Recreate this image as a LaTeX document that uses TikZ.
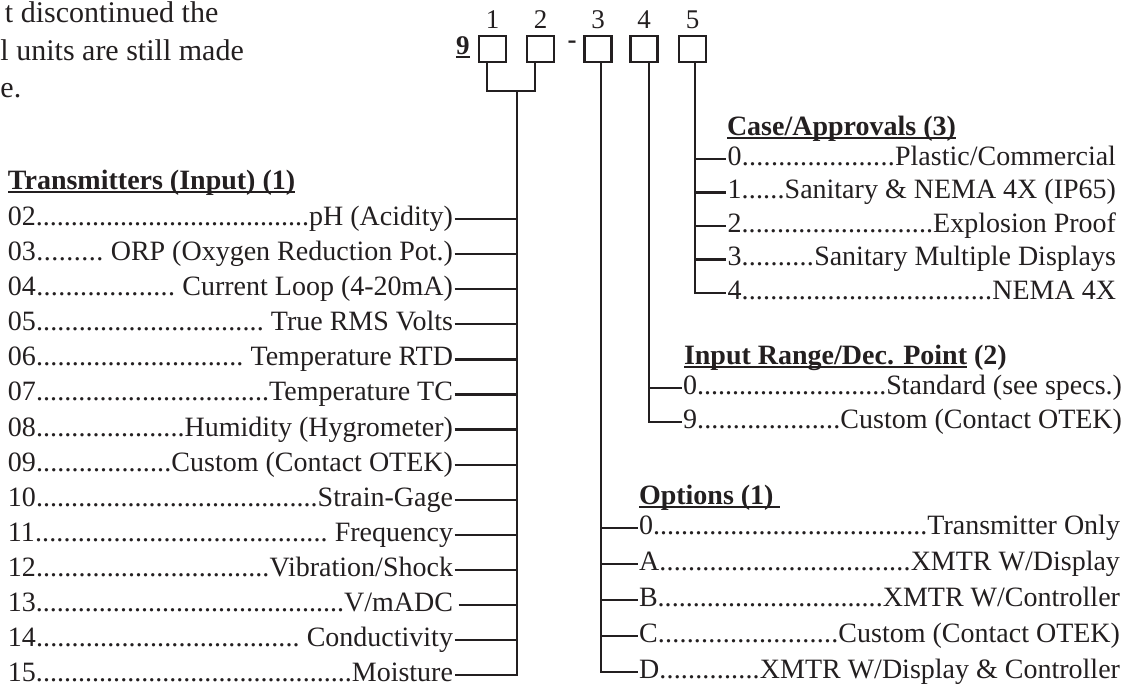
\documentclass[tikz,border=0pt]{standalone}
\usepackage{fontspec}
\setmainfont{Liberation Serif}
\definecolor{ink}{HTML}{231F20}
\newcommand\fs{\fontsize{28}{33}\selectfont}
\newcommand\fstop{\fontsize{27}{32}\selectfont}
\newcommand\fsbig{\fontsize{30}{40}\selectfont}
\newcommand\dotrow[3]{\hbox to #1{#2\xleaders\hbox{.}\hfill#3}}
\tikzset{
  conn/.style={draw=ink, line width=2.3pt, line join=miter},
  codebox/.style={draw=ink, line width=2.2pt, minimum width=27pt, minimum height=26pt},
  ulline/.style={draw=ink, line width=1.8pt},
  lrow/.style={anchor=mid west, inner xsep=1.5pt},
  rrow/.style={anchor=mid west, inner xsep=1.5pt},
  head/.style={anchor=base west, font=\fs\bfseries},
}
\begin{document}
\fs
\begin{tikzpicture}[x=1pt,y=-1pt, every node/.style={inner sep=0pt, outer sep=0pt, text=ink, font=\fs}]
\useasboundingbox (0,0) rectangle (1136,686);

% clipped paragraph at top left
\node[anchor=base west, font=\fsbig] (p1) at (5,22.5) {t discontinued the};
\node[anchor=base west, font=\fsbig] (p2) at (0.5,60) {l units are still made};
\node[anchor=base west, font=\fsbig] (p3) at (0.5,97.5) {e.};

% model code
\node[anchor=base west, font=\fstop\bfseries] (nine) at (456,54) {9};
\draw[ulline] ([yshift=-3pt]nine.base west) -- ([yshift=-3pt]nine.base east);
\node[codebox] (b1) at (492.5,49) {};
\node[codebox] (b2) at (540.5,49) {};
\node[anchor=base, font=\fstop\bfseries] (dash) at (572,48.5) {-};
\node[codebox] (b3) at (598,49) {};
\node[codebox] (b4) at (644,49) {};
\node[codebox] (b5) at (692.5,49) {};
\foreach \b/\t in {b1/1,b2/2,b3/3,b4/4,b5/5}
  \node[anchor=base, font=\fstop] (lab\t) at (\b.center |- 0,28) {\t};

\coordinate (s1) at ([xshift=-5.5pt]b1.south);
\coordinate (s2) at ([xshift=-5.5pt]b2.south);
\coordinate (jn) at (517,91);
\coordinate (s3) at ([xshift=3pt]b3.south);
\coordinate (s4) at ([xshift=5pt]b4.south);
\coordinate (s5) at ([xshift=2.5pt]b5.south);

% Transmitters
\node[head] (h1) at (8,189) {Transmitters (Input) (1)};
\draw[ulline] ([yshift=-3pt]h1.base west) -- ([yshift=-3pt]h1.base east);
\node[lrow] (l02) at (6.5,219.0) {\dotrow{445pt}{02}{pH (Acidity)}};
\node[lrow] (l03) at (6.5,254.1) {\dotrow{445pt}{03}{\ ORP (Oxygen Reduction Pot.)}};
\node[lrow] (l04) at (6.5,289.2) {\dotrow{445pt}{04}{\ Current Loop (4-20mA)}};
\node[lrow] (l05) at (6.5,324.3) {\dotrow{445pt}{05}{\ True RMS Volts}};
\node[lrow] (l06) at (6.5,359.4) {\dotrow{445pt}{06}{\ Temperature RTD}};
\node[lrow] (l07) at (6.5,394.5) {\dotrow{445pt}{07}{Temperature TC}};
\node[lrow] (l08) at (6.5,429.6) {\dotrow{445pt}{08}{Humidity (Hygrometer)}};
\node[lrow] (l09) at (6.5,464.7) {\dotrow{445pt}{09}{Custom (Contact OTEK)}};
\node[lrow] (l10) at (6.5,499.8) {\dotrow{445pt}{10}{Strain-Gage}};
\node[lrow] (l11) at (6.5,534.9) {\dotrow{445pt}{11}{\ Frequency}};
\node[lrow] (l12) at (6.5,570.0) {\dotrow{445pt}{12}{Vibration/Shock}};
\node[lrow] (l13) at (6.5,605.1) {\dotrow{445pt}{13}{V/mADC}};
\node[lrow] (l14) at (6.5,640.2) {\dotrow{445pt}{14}{\ Conductivity}};
\node[lrow] (l15) at (6.5,675.3) {\dotrow{445pt}{15}{Moisture}};

\draw[conn] (s1) |- (s2 |- jn) -- (s2);
\draw[conn] (jn) |- (l15.mid east);
\foreach \r in {l02,l03,l04,l05,l06,l07,l08,l09,l10,l11,l12,l14}
  \draw[conn] (\r.mid east) -- (\r.mid east -| jn);
\draw[conn] ([xshift=4pt]l13.mid east) -- (l13.mid east -| jn);

% Case/Approvals
\node[head] (h2) at (727,135) {Case/Approvals (3)};
\draw[ulline] ([yshift=-3pt]h2.base west) -- ([yshift=-3pt]h2.base east);
\node[rrow] (c0) at (726,159.0) {\dotrow{388.5pt}{0}{Plastic/Commercial}};
\node[rrow] (c1) at (726,192.5) {\dotrow{388.5pt}{1}{Sanitary \& NEMA 4X (IP65)}};
\node[rrow] (c2) at (726,226.0) {\dotrow{388.5pt}{2}{Explosion Proof}};
\node[rrow] (c3) at (726,259.5) {\dotrow{388.5pt}{3}{Sanitary Multiple Displays}};
\node[rrow] (c4) at (726,293.0) {\dotrow{388.5pt}{4}{NEMA 4X}};
\draw[conn] (s5) |- (c4.mid west);
\foreach \r in {c0,c1,c2,c3}
  \draw[conn] (\r.mid west -| s5) -- (\r.mid west);

% Input Range
\node[head] (h3) at (684,364) {Input Range/Dec. Point};
\draw[ulline] ([yshift=-3pt]h3.base west) -- ([yshift=-3pt]h3.base east);
\node[head] (h3b) at (h3.base east) {\ (2)};
\node[rrow] (i0) at (681.5,388) {\dotrow{439pt}{0}{Standard (see specs.)}};
\node[rrow] (i9) at (681.5,422) {\dotrow{439pt}{9}{Custom (Contact OTEK)}};
\draw[conn] (s4) |- (i9.mid west);
\draw[conn] (i0.mid west -| s4) -- (i0.mid west);

% Options
\node[head] (h4) at (639,504) {Options (1)};
\draw[ulline] ([yshift=-3pt]h4.base west) -- ([yshift=-3pt,xshift=6pt]h4.base east);
\node[rrow] (o0) at (637.5,528) {\dotrow{481pt}{0}{Transmitter Only}};
\node[rrow] (oA) at (637.5,564) {\dotrow{481pt}{A}{XMTR W/Display}};
\node[rrow] (oB) at (637.5,600) {\dotrow{481pt}{B}{XMTR W/Controller}};
\node[rrow] (oC) at (637.5,636) {\dotrow{481pt}{C}{Custom (Contact OTEK)}};
\node[rrow] (oD) at (637.5,672) {\dotrow{481pt}{D}{XMTR W/Display \& Controller}};
\draw[conn] (s3) |- (oD.mid west);
\foreach \r in {o0,oA,oB,oC}
  \draw[conn] (\r.mid west -| s3) -- (\r.mid west);
\end{tikzpicture}
\end{document}
